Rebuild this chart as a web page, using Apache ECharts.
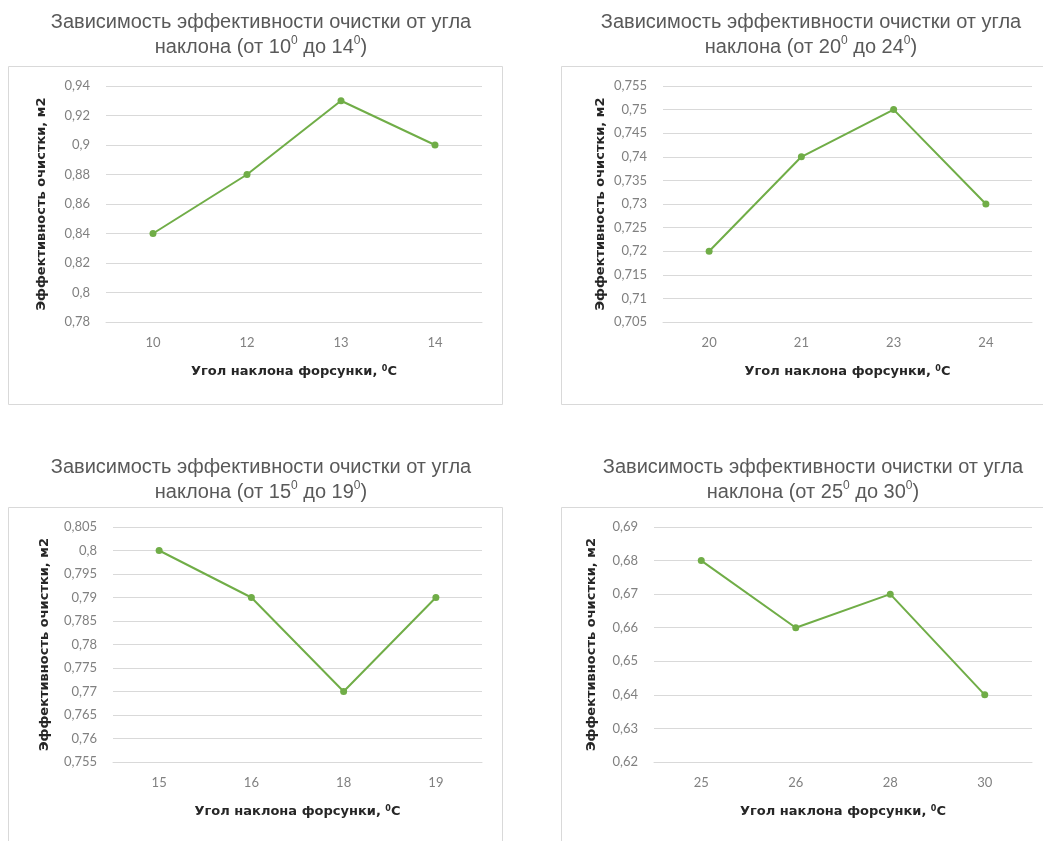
<!DOCTYPE html>
<html><head><meta charset="utf-8">
<script src="https://cdn.jsdelivr.net/npm/echarts@6/dist/echarts.min.js"></script>
<style>html,body{margin:0;padding:0;background:#fff}#c{width:1043px;height:841px}</style>
</head><body><div id="c"></div>
<script>
const cats1 = ['10', '12', '13', '14'];
const vals1 = [0.84, 0.88, 0.93, 0.90];
const cats2 = ['20', '21', '23', '24'];
const vals2 = [0.72, 0.74, 0.75, 0.73];
const cats3 = ['15', '16', '18', '19'];
const vals3 = [0.80, 0.79, 0.77, 0.79];
const cats4 = ['25', '26', '28', '30'];
const vals4 = [0.68, 0.66, 0.67, 0.64];
const yMin = [0.78, 0.705, 0.755, 0.62];
const yMax = [0.94, 0.755, 0.805, 0.69];
const yStep = [0.02, 0.005, 0.005, 0.01];
const ranges = [['10', '14'], ['20', '24'], ['15', '19'], ['25', '30']];
const titleMain = 'Зависимость эффективности очистки от угла';
const yName = 'Эффективность очистки, м2';
const xName = 'Угол наклона форсунки, ';

const cats = [cats1, cats2, cats3, cats4];
const vals = [vals1, vals2, vals3, vals4];

const grids = [
  {left: 106, top: 86, width: 376, height: 236},
  {left: 663, top: 86, width: 369, height: 236},
  {left: 113, top: 527, width: 369, height: 235},
  {left: 654, top: 527, width: 378, height: 235}
];
const titlePos = [{x: 256, y: 5}, {x: 806, y: 5}, {x: 256, y: 450}, {x: 808, y: 450}];
const yGap = [58, 56, 62, 56];

const fmt = v => parseFloat(v.toFixed(4)).toString().replace('.', ',');

const supStyle = {fontSize: 12, verticalAlign: 'top', lineHeight: 25, padding: [0, 0, 9, 0], color: '#595959', fontFamily: 'Liberation Sans'};

const option = {
  backgroundColor: '#fff',
  animation: false,
  graphic: [
    {type: 'rect', shape: {x: 8.5, y: 66.5, width: 494, height: 338}, style: {fill: 'none', stroke: '#d9d9d9', lineWidth: 1}},
    {type: 'rect', shape: {x: 561.5, y: 66.5, width: 500, height: 338}, style: {fill: 'none', stroke: '#d9d9d9', lineWidth: 1}},
    {type: 'rect', shape: {x: 8.5, y: 507.5, width: 494, height: 360}, style: {fill: 'none', stroke: '#d9d9d9', lineWidth: 1}},
    {type: 'rect', shape: {x: 561.5, y: 507.5, width: 500, height: 360}, style: {fill: 'none', stroke: '#d9d9d9', lineWidth: 1}}
  ],
  title: ranges.map((r, i) => ({
    left: titlePos[i].x, top: titlePos[i].y, textAlign: 'center',
    text: titleMain + '\nнаклона (от ' + r[0] + '{sup|0} до ' + r[1] + '{sup|0})',
    textStyle: {
      fontFamily: 'Liberation Sans', fontSize: 20, fontWeight: 'normal', color: '#595959', lineHeight: 25,
      rich: {sup: supStyle}
    }
  })),
  grid: grids,
  xAxis: cats.map((c, i) => ({
    type: 'category', gridIndex: i, data: c, boundaryGap: true,
    name: xName + '{s|0}C', nameLocation: 'middle', nameGap: 43,
    nameTextStyle: {fontFamily: 'DejaVu Sans', fontSize: 13, fontWeight: 'bold', color: '#262626',
      rich: {s: {fontSize: 8, fontWeight: 'bold', verticalAlign: 'top', padding: [0, 0, 6, 0], color: '#262626', fontFamily: 'DejaVu Sans'}}},
    axisLine: {show: true, lineStyle: {color: '#d9d9d9', width: 1}},
    axisTick: {show: false},
    axisLabel: {color: '#808080', fontFamily: 'Lato', fontSize: 13, margin: 14}
  })),
  yAxis: cats.map((c, i) => ({
    type: 'value', gridIndex: i, min: yMin[i], max: yMax[i], interval: yStep[i],
    name: yName, nameLocation: 'middle', nameGap: yGap[i], nameRotate: 90,
    nameTextStyle: {fontFamily: 'DejaVu Sans', fontSize: 13, fontWeight: 'bold', color: '#262626'},
    axisLine: {show: false}, axisTick: {show: false},
    splitLine: {lineStyle: {color: '#d9d9d9', width: 1}},
    axisLabel: {color: '#808080', fontFamily: 'Lato', fontSize: 13, margin: 16, formatter: fmt}
  })),
  series: vals.map((v, i) => ({
    type: 'line', xAxisIndex: i, yAxisIndex: i, data: v,
    symbol: 'circle', symbolSize: 7,
    lineStyle: {color: '#70ad47', width: 2},
    itemStyle: {color: '#70ad47'}
  }))
};
const chart = echarts.init(document.getElementById('c'), null, {renderer: 'canvas'});
chart.setOption(option);
</script></body></html>
